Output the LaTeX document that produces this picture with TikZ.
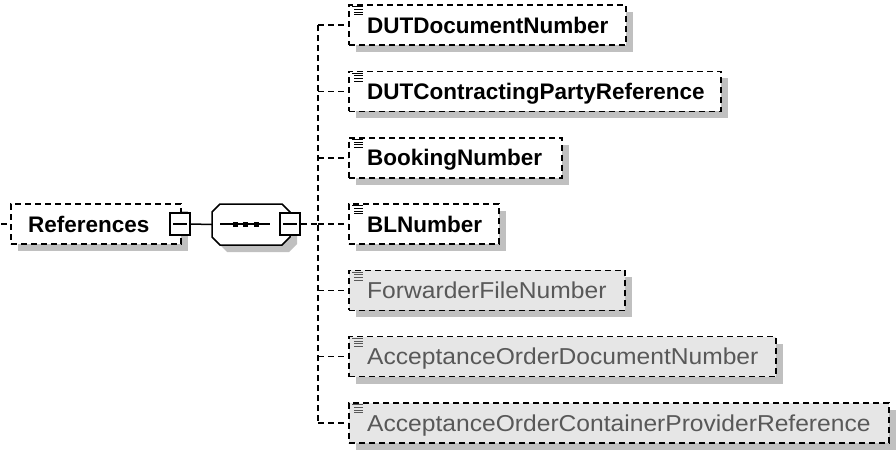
\documentclass[tikz,border=0pt]{standalone}
\usepackage{fontspec}
\setmainfont{Liberation Sans}
\newfontfamily\grayfont[FakeStretch=1.07]{Liberation Sans}
\usetikzlibrary{shadows}
\definecolor{shadowgray}{RGB}{192,192,192}
\definecolor{boxgray}{RGB}{230,230,230}
\definecolor{txtgray}{RGB}{88,88,88}
\tikzset{
  dashline/.style={line width=1.6pt, dash pattern=on 6pt off 4pt},
  optbox/.style={draw, dashline, fill=white, rectangle, minimum height=40pt, inner sep=0pt, anchor=west,
    general shadow={fill=shadowgray, shadow xshift=7pt, shadow yshift=-7pt}},
  greybox/.style={optbox, fill=boxgray},
  boldlabel/.style={anchor=base west, inner sep=0pt, font=\fontsize{22.5}{27}\selectfont\bfseries},
  greylabel/.style={anchor=base west, inner sep=0pt, text=txtgray, font=\fontsize{23}{27}\grayfont},
  minusbox/.style={draw, solid, line width=1.5pt, fill=white, rectangle, minimum width=20pt, minimum height=22pt, inner sep=0pt},
  seqframe/.style={rectangle, minimum width=78pt, minimum height=41pt, inner sep=0pt},
  seqline/.style={draw=black, line width=1.5pt, fill=white},
  seqshadow/.style={fill=shadowgray},
  conn/.style={dashline},
  solidconn/.style={line width=1.5pt},
  iconline/.style={line width=1pt},
}
\newcommand{\xsdicon}[2]{%
  \draw[iconline,#2] ([shift={(4,2.5)}]#1.north west) -- ++(11,0);
  \draw[iconline,#2] ([shift={(6,5.2)}]#1.north west) -- ++(9,0);
  \draw[iconline,#2] ([shift={(6,7.9)}]#1.north west) -- ++(9,0);
  \draw[iconline,#2] ([shift={(6,10.6)}]#1.north west) -- ++(9,0);
}
\begin{document}
\begin{tikzpicture}[x=1pt,y=-1pt]
\useasboundingbox (0,0) rectangle (896,452);

% root element
\node[optbox, minimum width=170pt] (ref) at (10,224) {};
\node[boldlabel] (reft) at (28,232) {References};
\coordinate (L) at (1,224);
\draw[conn] (L) -- (ref.west);
\node[minusbox] (m1) at (180,224) {};
\draw[solidconn] ([xshift=4pt]m1.west) -- ([xshift=-4pt]m1.east);

% sequence compositor (shadow, then octagon)
\fill[seqshadow] (227,211) -- (289,211) -- (297,219) -- (297,244) -- (289,252) -- (227,252) -- (219,244) -- (219,219) -- cycle;
\node[seqframe] (seq) at (251,224.5) {};
\draw[seqline] (220,204) -- (282,204) -- (290,212) -- (290,237) -- (282,245) -- (220,245) -- (212,237) -- (212,212) -- cycle;
\draw[solidconn] (m1.east) -- (seq.west);
\draw[solidconn] (220,224) -- (270,224);
\fill (232.5,221.5) rectangle ++(5,5);
\fill (243,221.5) rectangle ++(5,5);
\fill (253.5,221.5) rectangle ++(5,5);
\node[minusbox] (m2) at (290,224) {};
\draw[solidconn] ([xshift=4pt]m2.west) -- ([xshift=-4pt]m2.east);

\coordinate (J) at (318,224);
\draw[conn] (m2.east) -- (J);

% children
\node[optbox, minimum width=277pt] (c1) at (348,25.1) {};
\node[optbox, minimum width=372pt] (c2) at (348,91.4) {};
\node[optbox, minimum width=213pt] (c3) at (348,157.7) {};
\node[optbox, minimum width=150pt] (c4) at (348,224) {};
\node[greybox, minimum width=276pt] (c5) at (348,290.3) {};
\node[greybox, minimum width=427pt] (c6) at (348,356.6) {};
\node[greybox, minimum width=540pt] (c7) at (348,422.9) {};

\node[boldlabel] (t1) at (367,33.1) {DUTDocumentNumber};
\node[boldlabel] (t2) at (367,99.4) {DUTContractingPartyReference};
\node[boldlabel] (t3) at (367,165.7) {BookingNumber};
\node[boldlabel] (t4) at (367,232) {BLNumber};
\node[greylabel] (t5) at (367,298.5) {ForwarderFileNumber};
\node[greylabel] (t6) at (367,364.8) {AcceptanceOrderDocumentNumber};
\node[greylabel] (t7) at (367,431.1) {AcceptanceOrderContainerProviderReference};

\xsdicon{c1}{black}
\xsdicon{c2}{black}
\xsdicon{c3}{black}
\xsdicon{c4}{black}
\xsdicon{c5}{txtgray}
\xsdicon{c6}{txtgray}
\xsdicon{c7}{txtgray}

\draw[conn] (J |- c1.west) -- (J |- c7.west);
\foreach \c in {c1,c2,c3,c4,c5,c6,c7}
  \draw[conn] (J |- \c.west) -- (\c.west);
\end{tikzpicture}
\end{document}
